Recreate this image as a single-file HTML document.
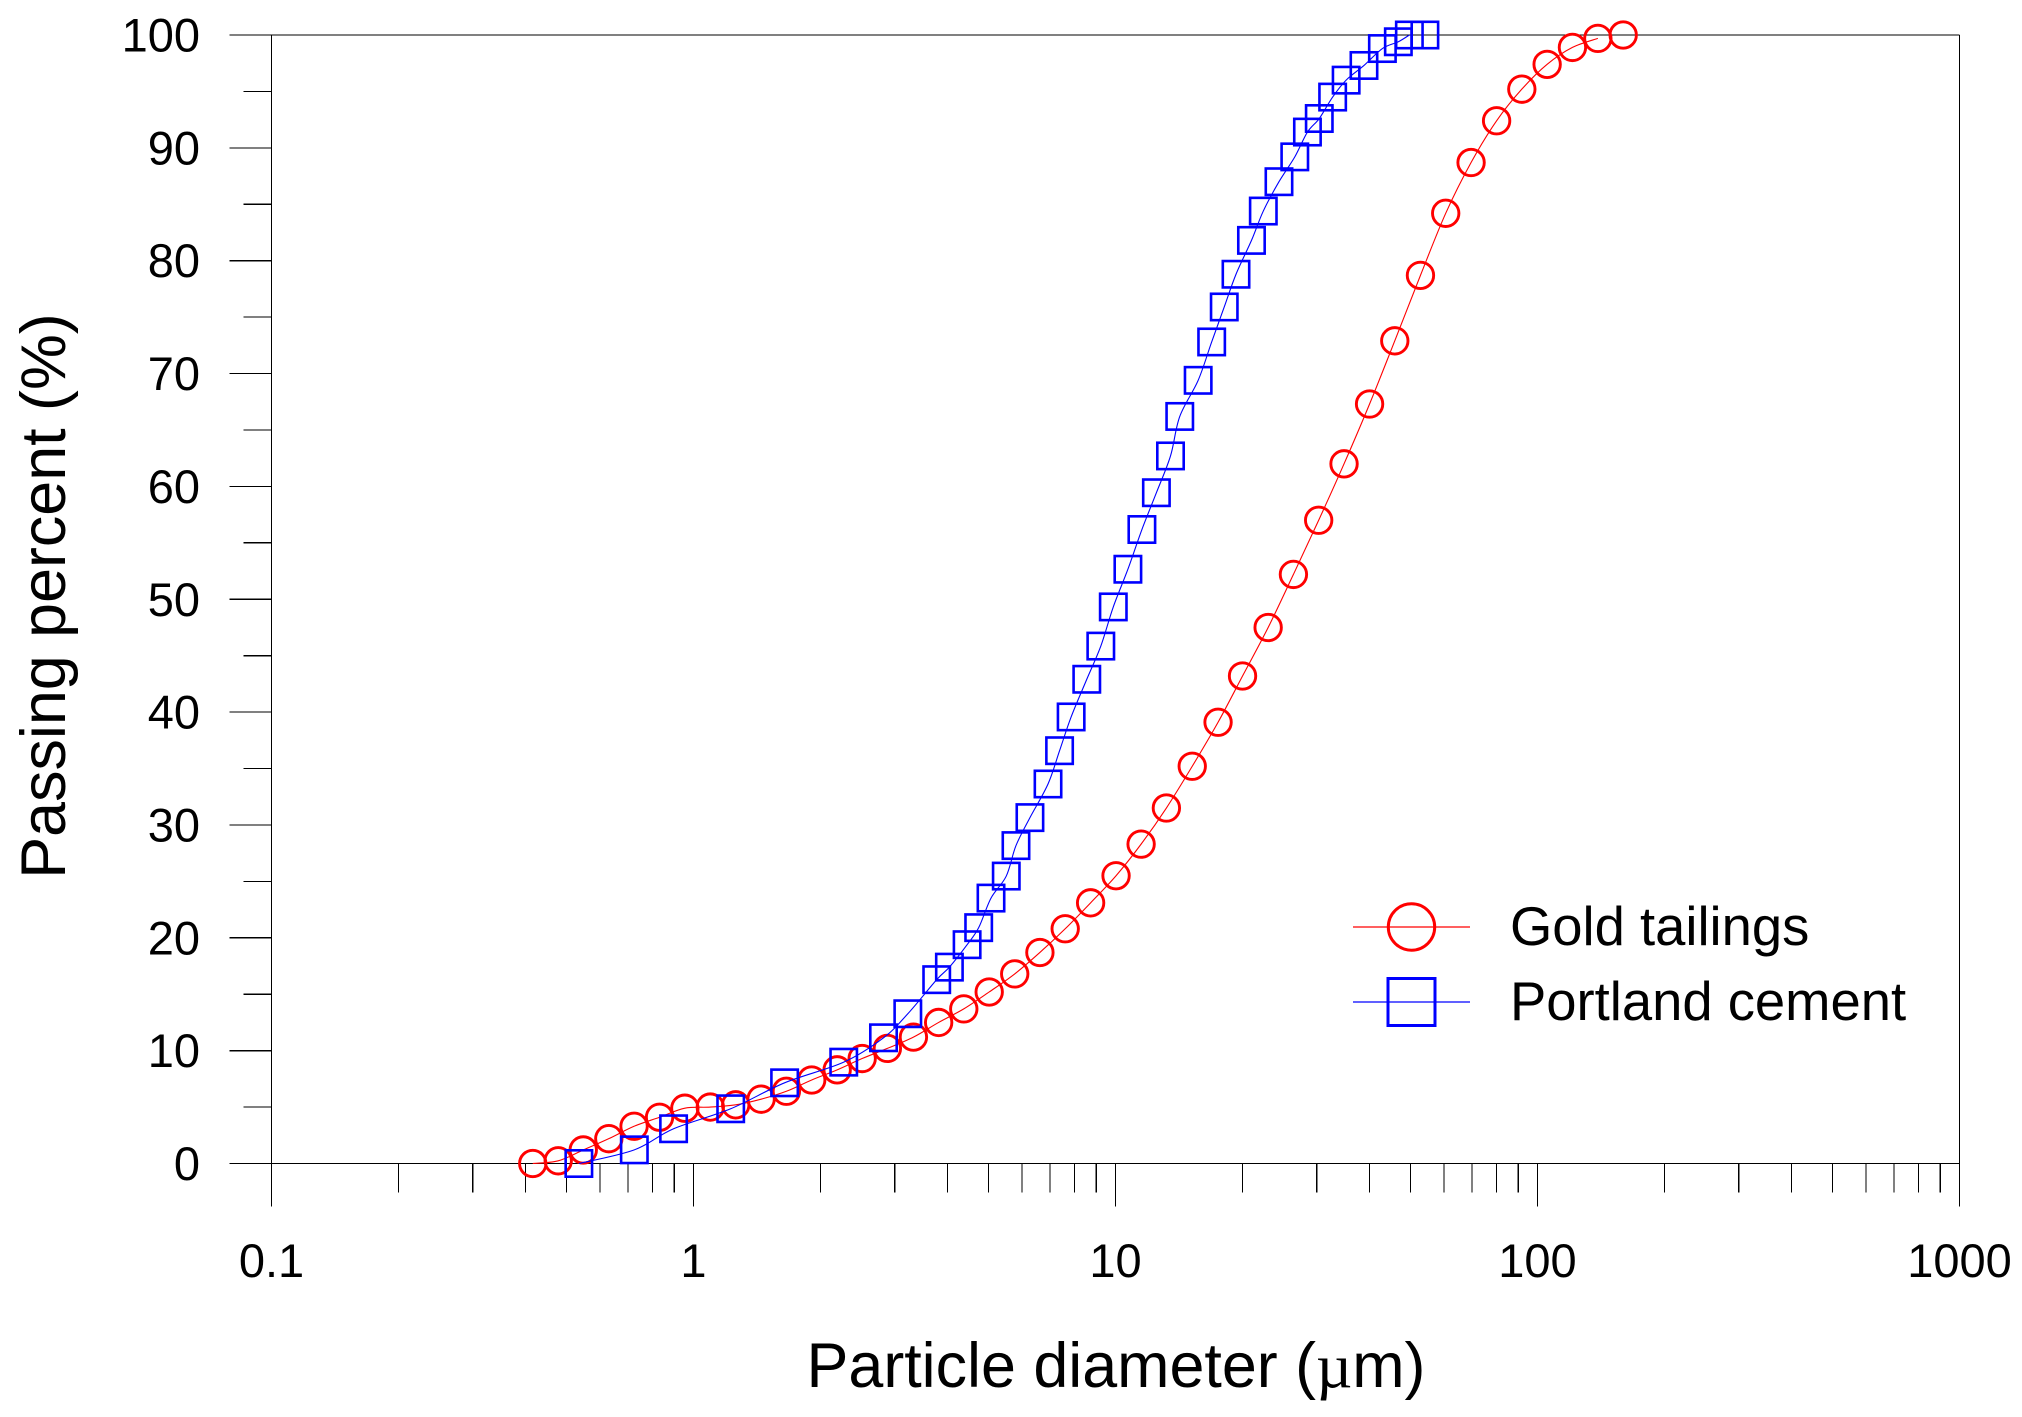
<!DOCTYPE html>
<html lang="en">
<head>
<meta charset="utf-8">
<title>Particle size distribution</title>
<style>
  html, body { margin: 0; padding: 0; background: #fff; }
  #chart { display: block; width: 2022px; height: 1417px; background: #fff; }
  text { font-family: "Liberation Sans", Arial, sans-serif; fill: #000; }
  .tick-label { font-size: 47px; }
  .axis-title { font-size: 62.8px; }
  .legend-label { font-size: 54.4px; }
</style>
</head>
<body>
<svg id="chart" xmlns="http://www.w3.org/2000/svg" width="2022" height="1417" viewBox="0 0 2022 1417">
  <g id="axes"></g>
  <g id="series"></g>
  <text class="axis-title" x="1116" y="1387" text-anchor="middle">Particle diameter (<tspan font-family="Liberation Serif, serif">µ</tspan>m)</text>
  <text class="axis-title" transform="translate(65 596) rotate(-90)" text-anchor="middle">Passing percent (%)</text>
  <g>
    <g>
      <line x1="1353" x2="1470" y1="927" y2="927" stroke="#ff0000" stroke-width="1.2"/>
      <circle cx="1411.5" cy="927" r="23.2" fill="none" stroke="#ff0000" stroke-width="3"/>
      <text class="legend-label" x="1510" y="945">Gold tailings</text>
    </g>
    <g>
      <line x1="1353" x2="1470" y1="1002" y2="1002" stroke="#0000ff" stroke-width="1.2"/>
      <rect x="1388" y="978.5" width="47" height="47" fill="none" stroke="#0000ff" stroke-width="3"/>
      <text class="legend-label" x="1510" y="1020">Portland cement</text>
    </g>
  </g>
</svg>
<script>
const goldDiameters = [0.416,0.478,0.548,0.630,0.723,0.831,0.954,1.096,1.259,1.446,1.660,1.906,2.190,2.51,2.88,3.32,3.81,4.37,5.02,5.77,6.62,7.60,8.73,10.03,11.5,13.2,15.2,17.5,20.0,23.0,26.4,30.3,34.8,40.0,45.9,52.8,60.6,69.6,80.0,91.8,105.4,121,139,159.6];
const goldPassing = [0,0.24,1.2,2.2,3.3,4.1,4.9,5.0,5.2,5.7,6.4,7.4,8.3,9.3,10.2,11.2,12.5,13.7,15.2,16.8,18.7,20.8,23.1,25.5,28.3,31.5,35.2,39.1,43.2,47.5,52.2,57.0,62.0,67.3,72.9,78.7,84.2,88.7,92.4,95.2,97.4,98.9,99.7,100];
const cementDiameters = [0.535,0.724,0.897,1.225,1.644,2.27,2.82,3.22,3.77,4.04,4.45,4.74,5.07,5.51,5.81,6.27,6.92,7.37,7.85,8.55,9.23,9.88,10.7,11.55,12.5,13.5,14.2,15.7,16.9,18.1,19.3,21.0,22.4,24.4,26.6,28.5,30.4,32.7,35.2,38.8,42.9,46.8,49.7,54.1];
const cementPassing = [0,1.21,3.08,4.85,7.15,8.98,11.14,13.27,16.29,17.4,19.39,20.9,23.52,25.47,28.17,30.65,33.63,36.58,39.57,42.91,45.85,49.32,52.66,56.18,59.44,62.7,66.2,69.4,72.8,75.9,78.8,81.8,84.4,87.0,89.2,91.4,92.6,94.5,96.0,97.3,98.8,99.4,100,100];
const xMajorTicks = [0.1,1,10,100,1000];
const xMajorLabels = ["0.1","1","10","100","1000"];
const xMinorMultipliers = [2,3,4,5,6,7,8,9];
const yMajorTicks = [0,10,20,30,40,50,60,70,80,90,100];
const yMinorTicks = [5,15,25,35,45,55,65,75,85,95];

const NS = "http://www.w3.org/2000/svg";
const xAxisStart = 271.5, xDecade = 422;
const yAxisZero = 1163.5, yUnit = 11.285;
const xScale = v => xAxisStart + (Math.log10(v) + 1) * xDecade;
const yScale = v => yAxisZero - v * yUnit;
const axes = document.getElementById("axes");
const seriesRoot = document.getElementById("series");

function make(tag, attrs, parent) {
  const el = document.createElementNS(NS, tag);
  for (const k in attrs) el.setAttribute(k, attrs[k]);
  parent.appendChild(el);
  return el;
}
function axisLine(x1, y1, x2, y2, name) {
  const el = make("line", { x1, y1, x2, y2, stroke: "#000", "stroke-width": 1.2, "shape-rendering": "crispEdges" }, axes);
  
  
}

const xMin = xMajorTicks[0], xMax = xMajorTicks[xMajorTicks.length - 1];
const yMin = yMajorTicks[0], yMax = yMajorTicks[yMajorTicks.length - 1];
axisLine(xScale(xMin), yScale(yMin), xScale(xMin), yScale(yMax), "y-axis-line");
axisLine(xScale(xMax), yScale(yMin), xScale(xMax), yScale(yMax), "right-axis-line");
axisLine(xScale(xMin), yScale(yMax), xScale(xMax), yScale(yMax), "top-axis-line");
axisLine(xScale(xMin), yScale(yMin), xScale(xMax), yScale(yMin), "x-axis-line");

yMajorTicks.forEach(v => {
  axisLine(xScale(xMin) - 42, yScale(v), xScale(xMin), yScale(v), "y-major-tick");
  const t = make("text", { x: 200, y: yScale(v) + 16.5, "text-anchor": "end", class: "tick-label" }, axes);
  
  
  t.textContent = String(v);
});
yMinorTicks.forEach(v => {
  axisLine(xScale(xMin) - 28, yScale(v), xScale(xMin), yScale(v), "y-minor-tick");
});
xMajorTicks.forEach((v, i) => {
  axisLine(xScale(v), yScale(yMin), xScale(v), yScale(yMin) + 43, "x-major-tick");
  const t = make("text", { x: xScale(v), y: 1277, "text-anchor": "middle", class: "tick-label" }, axes);
  
  
  t.textContent = xMajorLabels[i];
  if (i < xMajorTicks.length - 1) {
    xMinorMultipliers.forEach(m => {
      axisLine(xScale(v * m), yScale(yMin), xScale(v * m), yScale(yMin) + 29, "x-minor-tick");
    });
  }
});

function smoothPath(pts) {
  let d = "M" + pts[0][0].toFixed(2) + " " + pts[0][1].toFixed(2);
  for (let i = 0; i < pts.length - 1; i++) {
    const p0 = pts[Math.max(0, i - 1)], p1 = pts[i], p2 = pts[i + 1], p3 = pts[Math.min(pts.length - 1, i + 2)];
    const c1x = p1[0] + (p2[0] - p0[0]) / 6, c1y = p1[1] + (p2[1] - p0[1]) / 6;
    const c2x = p2[0] - (p3[0] - p1[0]) / 6, c2y = p2[1] - (p3[1] - p1[1]) / 6;
    d += "C" + c1x.toFixed(2) + " " + c1y.toFixed(2) + " " + c2x.toFixed(2) + " " + c2y.toFixed(2) + " " + p2[0].toFixed(2) + " " + p2[1].toFixed(2);
  }
  return d;
}

function drawGold() {
  const g = make("g", {}, seriesRoot);
  
  
  const pts = goldDiameters.map((x, i) => [xScale(x), yScale(goldPassing[i])]);
  pts.forEach(p => {
    const c = make("circle", { cx: p[0], cy: p[1], r: 13.2, fill: "none", stroke: "#ff0000", "stroke-width": 2.9 }, g);
    
    
  });
  const line = make("path", { d: smoothPath(pts.slice(0, -1)), fill: "none", stroke: "#ff0000", "stroke-width": 1.1 }, g);
  
  
}
function drawCement() {
  const g = make("g", {}, seriesRoot);
  
  
  const pts = cementDiameters.map((x, i) => [xScale(x), yScale(cementPassing[i])]);
  pts.forEach(p => {
    const s = make("rect", { x: p[0] - 13.2, y: p[1] - 13.2, width: 26.4, height: 26.4, fill: "none", stroke: "#0000ff", "stroke-width": 2.6 }, g);
    
    
  });
  const line = make("path", { d: smoothPath(pts.slice(0, -1)), fill: "none", stroke: "#0000ff", "stroke-width": 1.1 }, g);
  
  
}
drawGold();
drawCement();
</script>
</body>
</html>
